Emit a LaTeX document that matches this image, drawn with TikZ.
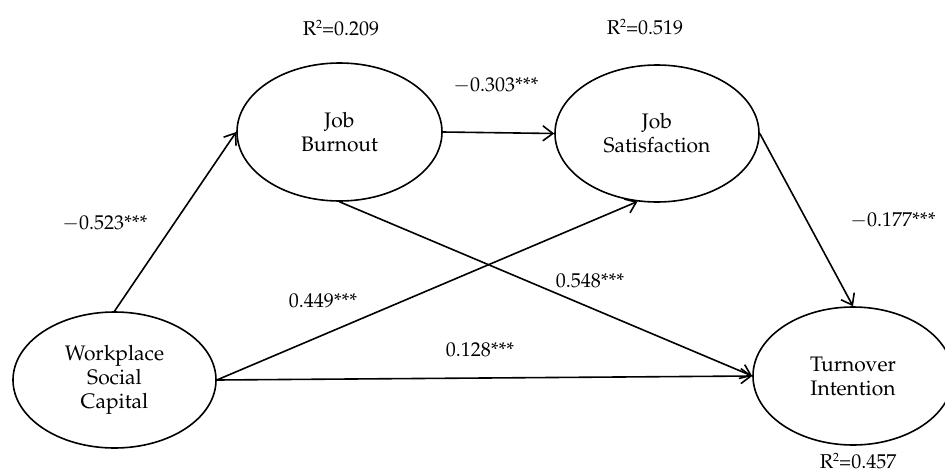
\documentclass[tikz,border=0pt]{standalone}
\usepackage[T1]{fontenc}
\usepackage{mathpazo}
\usetikzlibrary{shapes.geometric,arrows.meta}
\newcommand{\sqsup}{\raisebox{0.75ex}{\fontsize{12}{12}\selectfont 2}}
\begin{document}
\begin{tikzpicture}[x=1pt,y=-1pt,
  latent/.style={draw, ellipse, line width=1.6pt, inner sep=0pt, align=center,
    font=\fontsize{21}{24}\selectfont},
  lbl/.style={inner sep=0pt, font=\fontsize{20}{22}\selectfont},
  path/.style={line width=1.6pt, -{Straight Barb[length=10pt,width=15pt,line width=1.6pt]}}]
\clip (0,0) rectangle (945,474);
\node[latent, minimum width=203pt, minimum height=136pt] (wsc) at (114.5,380) {Workplace\\Social\\Capital};
\node[latent, minimum width=205pt, minimum height=138pt] (jb) at (339.5,132) {Job\\Burnout};
\node[latent, minimum width=204pt, minimum height=137pt] (js) at (657,133.5) {Job\\Satisfaction};
\node[latent, minimum width=200pt, minimum height=138pt] (ti) at (853,376) {Turnover\\Intention};

\draw[path] (wsc.north) -- (jb.west);
\draw[path] (jb.east) -- (js.west);
\draw[path] (jb.south) -- (ti.west);
\draw[path] (wsc.east) -- (js.254);
\draw[path] (js.east) -- (ti.north);
\draw[path] (wsc.east) -- (ti.west);

\node[lbl] (r1) at (341,28) {R\sqsup=0.209};
\node[lbl] (r2) at (645,27) {R\sqsup=0.519};
\node[lbl] (r3) at (858,461) {R\sqsup=0.457};
\node[lbl] (l1) at (105,223) {$-$0.523***};
\node[lbl] (l2) at (496,85) {$-$0.303***};
\node[lbl] (l3) at (893,220) {$-$0.177***};
\node[lbl] (l4) at (323,301) {0.449***};
\node[lbl] (l5) at (590,281) {0.548***};
\node[lbl] (l6) at (480,350) {0.128***};
\end{tikzpicture}
\end{document}
